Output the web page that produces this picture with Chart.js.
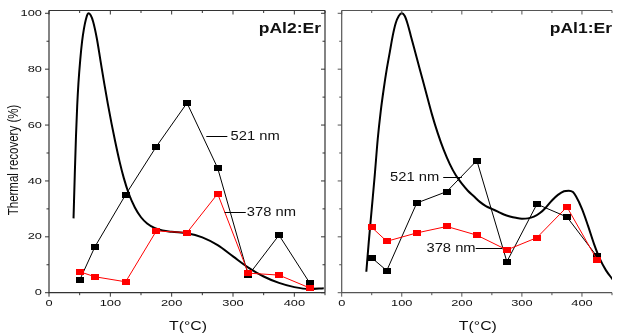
<!DOCTYPE html>
<html><head><meta charset="utf-8">
<script src="https://cdn.jsdelivr.net/npm/chart.js@4"></script>
<style>html,body{margin:0;padding:0;background:#fff;overflow:hidden;width:617px;height:334px}
canvas{position:absolute;top:0}</style></head>
<body>
<canvas id="c1" width="330" height="334" style="left:0px"></canvas>
<canvas id="c2" width="287" height="334" style="left:330px"></canvas>
<script>
// ---- data ----
const temps = [50, 75, 125, 175, 225, 275, 325, 375, 425];
const pAl2_521 = [4.5, 16.5, 35.1, 52.3, 67.9, 44.6, 6.2, 20.6, 3.5];
const pAl2_378 = [7.5, 5.7, 3.9, 22.1, 21.5, 35.4, 7.0, 6.3, 1.7];
const pAl1_521 = [12.5, 7.9, 32.1, 36.2, 47.3, 11.1, 31.7, 27.1, 13.0];
const pAl1_378 = [23.4, 18.4, 21.4, 23.7, 20.6, 15.3, 19.7, 30.7, 11.8];
const glowT_pAl2 = [40, 42, 44, 46, 48, 51, 54, 57, 60, 64, 68, 72, 78, 84, 90, 96, 102, 108, 115, 122, 130, 140, 150, 160, 172, 185, 200, 225, 250, 275, 300, 325, 350, 375, 400, 425, 448];
const glowV_pAl2 = [26.6, 42, 56, 67, 75, 83.5, 90, 94.5, 97.7, 100, 99.3, 97, 91, 83, 75, 67.5, 60.5, 54, 47, 41, 35.5, 30.5, 27, 24.8, 23.2, 22.3, 21.8, 21.3, 19.8, 17, 13, 9, 5.8, 3.5, 2, 1.3, 1.6];
const glowT_pAl1 = [41, 45, 50, 55, 60, 65, 70, 75, 80, 85, 90, 95, 100, 105, 110, 115, 120, 130, 140, 150, 160, 170, 180, 190, 200, 210, 220, 230, 240, 250, 260, 270, 280, 290, 300, 310, 320, 330, 340, 350, 360, 370, 378, 385, 390, 400, 410, 420, 430, 440, 452];
const glowV_pAl1 = [7.5, 18, 30, 42, 55, 65, 73, 80, 86, 92, 96.5, 99, 100, 99, 96, 92, 88, 80, 72, 64, 57, 51, 46, 42, 39, 36.5, 34.5, 32.5, 31, 30, 29, 28, 27.3, 26.8, 26.5, 26.6, 27.2, 28.5, 30.5, 33, 35, 36.3, 36.5, 36, 34.5, 30, 24, 17.5, 12, 8, 4.5];
const xTickValues = [0, 100, 200, 300, 400];
const yTickValues = [0, 20, 40, 60, 80, 100];
const panelTitles = ['pAl2:Er', 'pAl1:Er'];
const seriesNames = ['521 nm', '378 nm'];
const xTitle = 'T(\u00B0C)';
const yTitle = 'Thermal recovery (%)';

// ---- helpers ----
function marker(color) {
  const c = document.createElement('canvas');
  c.width = 8; c.height = 6;
  const g = c.getContext('2d');
  g.fillStyle = color; g.fillRect(0, 0, 8, 6);
  return c;
}
const mkBlack = marker('#000000');
const mkRed = marker('#ff0000');
const FONT = '"Liberation Sans", Arial, sans-serif';

function sText(ctx, txt, x, y, font, sx, align, base, rot) {
  ctx.save();
  ctx.font = font;
  ctx.fillStyle = '#111';
  ctx.textAlign = align; ctx.textBaseline = base;
  ctx.translate(x, y);
  ctx.scale(sx, 1);
  if (rot) ctx.rotate(rot);
  ctx.fillText(txt, 0, 0);
  ctx.restore();
}

function decoPlugin(cfg) {
  return {
    id: 'deco' + cfg.id,
    afterDraw(chart) {
      const ctx = chart.ctx;
      const xs = chart.scales.x, ys = chart.scales.y;
      const a = chart.chartArea;
      ctx.save();
      ctx.strokeStyle = cfg.axisColor;
      ctx.lineWidth = 1.2;
      ctx.beginPath();
      ctx.moveTo(a.left, a.top); ctx.lineTo(a.left, a.bottom); ctx.lineTo(a.right, a.bottom);
      ctx.moveTo(a.left, a.top); ctx.lineTo(a.right, a.top);
      if (cfg.rightBorder) { ctx.moveTo(a.right, a.top); ctx.lineTo(a.right, a.bottom); }
      ctx.stroke();
      ctx.lineWidth = 1;
      ctx.beginPath();
      for (let v = 0; v <= 100; v += 10) {
        const y = ys.getPixelForValue(v);
        const L = (v % 20 === 0) ? 4 : 2.5;
        ctx.moveTo(a.left - L, y); ctx.lineTo(a.left, y);
        if (cfg.rightBorder) { ctx.moveTo(a.right - L, y); ctx.lineTo(a.right, y); }
      }
      for (let v = 0; v <= 450; v += 50) {
        const x = xs.getPixelForValue(v);
        const L = (v % 100 === 0) ? 4 : 2.5;
        ctx.moveTo(x, a.bottom); ctx.lineTo(x, a.bottom + L);
        ctx.moveTo(x, a.top); ctx.lineTo(x, a.top + L);
      }
      ctx.stroke();
      ctx.restore();
      const tf = '9.5px ' + FONT;
      xTickValues.forEach(v => sText(ctx, String(v), xs.getPixelForValue(v), a.bottom + 11, tf, 1.35, 'center', 'middle'));
      if (cfg.yLabels) yTickValues.forEach(v => sText(ctx, String(v), a.left - 7, ys.getPixelForValue(v), tf, 1.35, 'right', 'middle'));
      sText(ctx, xTitle, (a.left + a.right) / 2 + 1, 330, '13px ' + FONT, 1.22, 'center', 'alphabetic');
      if (cfg.yLabels) sText(ctx, yTitle, 14, 160, '11.5px ' + FONT, 1.25, 'center', 'middle', -Math.PI / 2);
      sText(ctx, cfg.title, cfg.titleRight, 33, 'bold 14px ' + FONT, 1.25, 'right', 'alphabetic');
      ctx.save();
      ctx.strokeStyle = '#000'; ctx.lineWidth = 1;
      cfg.notes.forEach(n => {
        const y = Math.round(ys.getPixelForValue(n.y)) + 0.5;
        ctx.beginPath();
        ctx.moveTo(xs.getPixelForValue(n.l1), y); ctx.lineTo(xs.getPixelForValue(n.l2), y);
        ctx.stroke();
        sText(ctx, n.text, xs.getPixelForValue(n.tx), y, '12.5px ' + FONT, 1.18, n.align, 'middle');
      });
      ctx.restore();
    }
  };
}

function makeChart(id, glowT, glowV, s521, s378, cfg) {
  const pts = (xs, ys) => xs.map((x, i) => ({x: x, y: ys[i]}));
  return new Chart(document.getElementById(id), {
    type: 'line',
    data: {
      datasets: [
        {data: pts(temps, s378), borderColor: '#ff0000', borderWidth: 1, pointStyle: mkRed, pointRadius: 4, tension: 0, order: 1},
        {data: pts(temps, s521), borderColor: '#000000', borderWidth: 1, pointStyle: mkBlack, pointRadius: 4, tension: 0, order: 2},
        {data: pts(glowT, glowV), borderColor: '#000000', borderWidth: 2, pointRadius: 0, cubicInterpolationMode: 'monotone', order: 3}
      ]
    },
    options: {
      responsive: false, animation: false, devicePixelRatio: 1,
      events: [],
      layout: {padding: {top: 10.5, right: cfg.padRight, left: 0, bottom: 0}},
      plugins: {legend: {display: false}, tooltip: {enabled: false}},
      scales: {
        x: {type: 'linear', min: 0, max: 450,
            grid: {display: false}, border: {display: false}, ticks: {display: false},
            afterFit: s => { s.height = 41.3; }},
        y: {type: 'linear', min: 0, max: 101,
            grid: {display: false}, border: {display: false}, ticks: {display: false},
            afterFit: s => { s.width = cfg.yWidth; }}
      }
    },
    plugins: [decoPlugin(cfg)]
  });
}

makeChart('c1', glowT_pAl2, glowV_pAl2, pAl2_521, pAl2_378, {
  id: 1, yWidth: 49, padRight: 5, rightBorder: true, yLabels: true, axisColor: '#333',
  title: panelTitles[0], titleRight: 321,
  notes: [
    {text: seriesNames[0], tx: 296, y: 56.1, l1: 256.5, l2: 290.8, align: 'left'},
    {text: seriesNames[1], tx: 322.4, y: 28.9, l1: 286.4, l2: 320.8, align: 'left'}
  ]
});
makeChart('c2', glowT_pAl1, glowV_pAl1, pAl1_521, pAl1_378, {
  id: 2, yWidth: 11.7, padRight: 0, rightBorder: false, yLabels: false, axisColor: '#555',
  title: panelTitles[1], titleRight: 282,
  notes: [
    {text: seriesNames[0], tx: 162.4, y: 41.4, l1: 169, l2: 200, align: 'right'},
    {text: seriesNames[1], tx: 223, y: 16, l1: 223, l2: 267, align: 'right'}
  ]
});
</script>
</body></html>
